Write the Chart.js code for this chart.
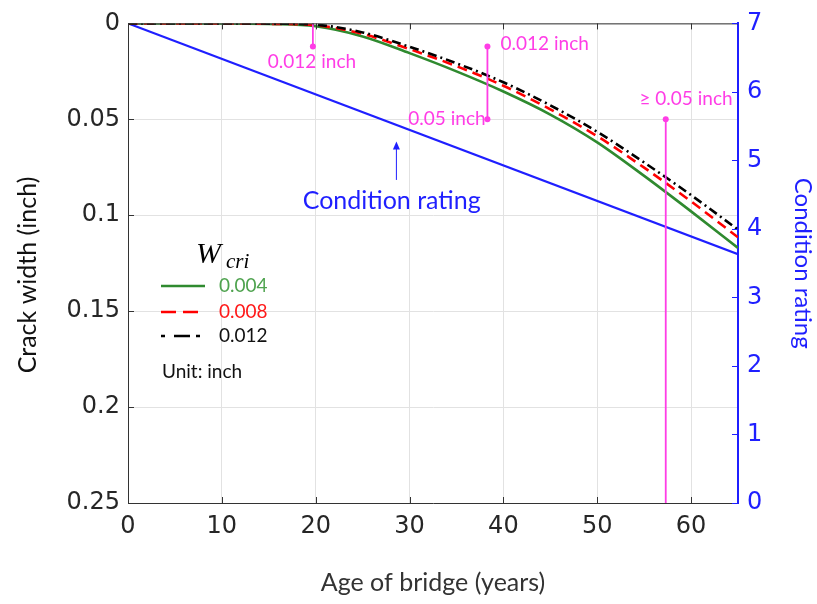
<!DOCTYPE html>
<html>
<head>
<meta charset="utf-8">
<script src="https://cdn.jsdelivr.net/npm/chart.js@4.4.1/dist/chart.umd.min.js"></script>
<style>
html, body { margin: 0; padding: 0; background: #fff; }
#wrap { width: 817px; height: 604px; }
</style>
</head>
<body>
<div id="wrap"><canvas id="crackChart"></canvas></div>
<script>
// age of bridge (years) and crack width (inch) for each critical width
const years = [0, 5, 10, 15, 20, 25, 30, 35, 40, 45, 50, 55, 60, 65];
const crack004 = [0, 0, 0, 0.0003, 0.0015, 0.0068, 0.0155, 0.025, 0.0355, 0.0475, 0.062, 0.0795, 0.098, 0.117];
const crack008 = [0, 0, 0, 0.0002, 0.001, 0.0055, 0.0134, 0.0223, 0.0325, 0.0448, 0.0588, 0.0752, 0.0928, 0.1115];
const crack012 = [0, 0, 0, 0.0001, 0.0007, 0.0047, 0.0122, 0.0208, 0.0307, 0.0427, 0.0565, 0.0725, 0.0895, 0.1075];

// condition rating (right axis)
const ratingYears = [0, 65];
const rating = [7, 3.63];

// magenta markers: age, crack width from, crack width to, dot on each end
const markerAge = [19.7, 38.3, 57.3];
const markerFrom = [0, 0.012, 0.05];
const markerTo = [0.012, 0.05, 0.25];
const markerDots = [[0, 3], [3, 3], [3, 0]];

const xTicks = [0, 10, 20, 30, 40, 50, 60];
const crackTicks = [0, 0.05, 0.1, 0.15, 0.2, 0.25];
const crackTickLabels = ['0', '0.05', '0.1', '0.15', '0.2', '0.25'];
const ratingTicks = [0, 1, 2, 3, 4, 5, 6, 7];

const legendLabels = ['0.004', '0.008', '0.012'];

const MAGENTA = '#ff3de6';
const BLUE = '#1f1fff';
const GREEN = '#2f8a2f';

const pts = (xs, ys) => xs.map((x, i) => ({ x: x, y: ys[i] }));

const markerSets = markerAge.map((age, i) => ({
    data: [{ x: age, y: markerFrom[i] }, { x: age, y: markerTo[i] }],
    borderColor: MAGENTA,
    backgroundColor: MAGENTA,
    borderWidth: 1.8,
    pointRadius: markerDots[i],
    pointBorderWidth: 0,
    yAxisID: 'y',
}));

const curveStyle = {
    pointRadius: 0,
    borderWidth: 2.6,
    cubicInterpolationMode: 'monotone',
    yAxisID: 'y',
};

const overlay = {
    id: 'overlay',
    afterDatasetsDraw(chart) {
        const { ctx, chartArea: a, scales } = chart;
        const x = scales.x, y = scales.y, y2 = scales.y2;
        ctx.save();

        // top frame line
        ctx.strokeStyle = '#333';
        ctx.lineWidth = 1;
        ctx.beginPath();
        ctx.moveTo(a.left, a.top + 0.5);
        ctx.lineTo(a.right, a.top + 0.5);
        ctx.stroke();

        // inward tick marks
        ctx.beginPath();
        xTicks.forEach(v => {
            const px = Math.round(x.getPixelForValue(v)) + 0.5;
            ctx.moveTo(px, a.bottom); ctx.lineTo(px, a.bottom - 6);
            ctx.moveTo(px, a.top); ctx.lineTo(px, a.top + 6);
        });
        crackTicks.forEach(v => {
            const py = Math.round(y.getPixelForValue(v)) + 0.5;
            ctx.moveTo(a.left, py); ctx.lineTo(a.left + 6, py);
        });
        ctx.stroke();
        ctx.strokeStyle = BLUE;
        ctx.beginPath();
        ratingTicks.forEach(v => {
            const py = Math.round(y2.getPixelForValue(v)) + 0.5;
            ctx.moveTo(a.right, py); ctx.lineTo(a.right - 6, py);
        });
        ctx.stroke();

        // left axis title
        ctx.save();
        ctx.translate(28, 275);
        ctx.rotate(-Math.PI / 2);
        ctx.fillStyle = '#111';
        ctx.font = '25px Lato';
        ctx.textAlign = 'center';
        ctx.textBaseline = 'middle';
        ctx.fillText('Crack width (inch)', 0, 0);
        ctx.restore();

        // arrow pointing at the condition rating line
        const ax = x.getPixelForValue(28.6);
        const aTop = y.getPixelForValue(0.0615);
        const aBot = y.getPixelForValue(0.0816);
        ctx.strokeStyle = BLUE;
        ctx.fillStyle = BLUE;
        ctx.lineWidth = 1;
        ctx.beginPath();
        ctx.moveTo(ax, aBot); ctx.lineTo(ax, aTop + 6);
        ctx.stroke();
        ctx.beginPath();
        ctx.moveTo(ax, aTop); ctx.lineTo(ax - 3.5, aTop + 8); ctx.lineTo(ax + 3.5, aTop + 8);
        ctx.closePath();
        ctx.fill();

        ctx.font = '25px Lato';
        ctx.textAlign = 'center';
        ctx.textBaseline = 'middle';
        ctx.fillText('Condition rating', x.getPixelForValue(28.1), y.getPixelForValue(0.0925));

        // marker labels
        ctx.fillStyle = MAGENTA;
        ctx.font = '19px Lato';
        ctx.textAlign = 'center';
        ctx.fillText('0.012 inch', x.getPixelForValue(19.6), y.getPixelForValue(0.0202));
        ctx.textAlign = 'left';
        ctx.fillText('0.012 inch', x.getPixelForValue(39.7), y.getPixelForValue(0.0109));
        ctx.fillText('\u2265 0.05 inch', x.getPixelForValue(54.5), y.getPixelForValue(0.0393));
        ctx.textAlign = 'right';
        ctx.fillText('0.05 inch', x.getPixelForValue(38.1), y.getPixelForValue(0.0496));

        // legend
        ctx.fillStyle = '#000';
        ctx.textAlign = 'left';
        ctx.textBaseline = 'alphabetic';
        ctx.font = 'italic 30px "Liberation Serif"';
        ctx.fillText('W', 196, 263);
        ctx.font = 'italic 21px "Liberation Serif"';
        ctx.fillText('cri', 226, 268);

        const lx0 = 161, lx1 = 205;
        const rows = [286, 312, 336];
        const styles = [
            { color: GREEN, dash: [], text: '#4fa34f' },
            { color: '#ff0000', dash: [15, 7], text: '#ff1a1a' },
            { color: '#000', dash: [4, 9, 16, 6], text: '#111' },
        ];
        styles.forEach((s, i) => {
            ctx.strokeStyle = s.color;
            ctx.lineWidth = 2.6;
            ctx.setLineDash(s.dash);
            ctx.beginPath();
            ctx.moveTo(lx0, rows[i]); ctx.lineTo(lx1, rows[i]);
            ctx.stroke();
            ctx.setLineDash([]);
            ctx.fillStyle = s.text;
            ctx.font = '19px Lato';
            ctx.textBaseline = 'middle';
            ctx.fillText(legendLabels[i], 219, rows[i]);
        });
        ctx.fillStyle = '#111';
        ctx.font = '19px Lato';
        ctx.fillText('Unit: inch', 162, 372);

        ctx.restore();
    },
};

new Chart(document.getElementById('crackChart').getContext('2d'), {
    type: 'line',
    data: {
        datasets: [
            ...markerSets,
            { ...curveStyle, data: pts(years, crack012), borderColor: '#000', borderDash: [9, 4, 2, 4] },
            { ...curveStyle, data: pts(years, crack008), borderColor: '#ff0000', borderDash: [10, 6] },
            { ...curveStyle, data: pts(years, crack004), borderColor: GREEN },
            {
                data: pts(ratingYears, rating),
                borderColor: BLUE,
                borderWidth: 2.2,
                pointRadius: 0,
                yAxisID: 'y2',
            },
        ],
    },
    options: {
        animation: false,
        responsive: true,
        maintainAspectRatio: false,
        layout: { padding: { top: 19, left: 0, right: 0, bottom: 0 } },
        plugins: { legend: { display: false }, tooltip: { enabled: false } },
        scales: {
            x: {
                type: 'linear',
                min: 0,
                max: 65,
                afterBuildTicks: s => { s.ticks = xTicks.map(v => ({ value: v })); },
                afterFit: s => { s.height = 101; },
                grid: { color: '#e2e2e2', drawTicks: false },
                border: { color: '#333', width: 1 },
                ticks: {
                    padding: 9,
                    color: '#262626',
                    font: { family: 'DejaVu Sans', size: 24 },
                    maxRotation: 0,
                },
                title: {
                    display: true,
                    text: 'Age of bridge (years)',
                    color: '#333',
                    font: { family: 'Lato', size: 25 },
                    padding: { top: 0, bottom: 6 },
                },
            },
            y: {
                type: 'linear',
                position: 'left',
                reverse: true,
                min: 0,
                max: 0.25,
                afterBuildTicks: s => { s.ticks = crackTicks.map(v => ({ value: v })); },
                afterFit: s => { s.width = 128; },
                grid: { color: '#e2e2e2', drawTicks: false },
                border: { color: '#333', width: 1 },
                ticks: {
                    padding: 8,
                    color: '#262626',
                    font: { family: 'DejaVu Sans', size: 24 },
                    callback: (v, i) => crackTickLabels[i],
                },
            },
            y2: {
                type: 'linear',
                position: 'right',
                min: 0,
                max: 7,
                afterBuildTicks: s => { s.ticks = ratingTicks.map(v => ({ value: v })); },
                afterFit: s => { s.width = 79; },
                grid: { display: false, drawTicks: false },
                border: { color: BLUE, width: 2 },
                ticks: {
                    padding: 9,
                    color: BLUE,
                    font: { family: 'DejaVu Sans', size: 24 },
                    callback: v => String(v),
                },
                title: {
                    display: true,
                    text: 'Condition rating',
                    color: BLUE,
                    font: { family: 'Lato', size: 24 },
                    padding: { top: 0, bottom: 0 },
                },
            },
        },
    },
    plugins: [overlay],
});
</script>
</body>
</html>
